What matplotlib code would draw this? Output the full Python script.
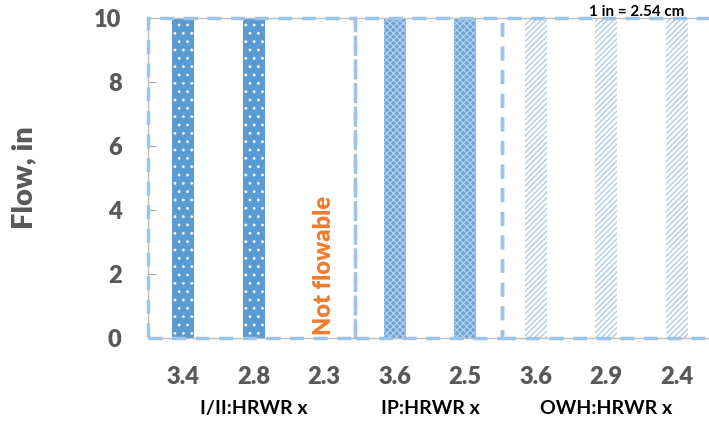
import matplotlib.pyplot as plt
from matplotlib.patches import Rectangle

plt.rcParams['font.family'] = ['Lato', 'DejaVu Sans']
plt.rcParams['hatch.linewidth'] = 0.8

# data
ratios = ["3.4", "2.8", "2.3", "3.6", "2.5", "3.6", "2.9", "2.4"]
flow = [10, 10, 0, 10, 10, 10, 10, 10]
groups = ["I/II:HRWR x", "IP:HRWR x", "OWH:HRWR x"]
group_sizes = [3, 2, 3]

gray = "#595959"
blue = "#5B9BD5"
light = "#9DC3E6"

fig = plt.figure(figsize=(7.09, 4.21), dpi=100)
ax = fig.add_axes([148 / 709, 1 - 338 / 421, 564 / 709, 320 / 421])

x = list(range(len(ratios)))
styles = (
    [dict(color=blue, edgecolor="white", hatch="..")] * 3
    + [dict(color="#6FA5DA", edgecolor="#B8D4EE", hatch="xxxxx")] * 2
    + [dict(color="white", edgecolor=light, hatch="//////")] * 3
)
for xi, v, st in zip(x, flow, styles):
    ax.bar(xi, v, width=0.31, linewidth=0, **st)

ax.set_xlim(-0.5, len(ratios) - 0.5)
ax.set_ylim(0, 10)
ax.set_yticks(range(0, 11, 2))
ax.set_xticks(x)
ax.set_xticklabels(ratios)
ax.tick_params(axis="both", labelsize=17, labelcolor=gray)
ax.tick_params(axis="x", length=0, pad=20)
ax.tick_params(axis="y", direction="in", length=6, width=0.8, color="#A6A6A6", pad=19)
for lbl in ax.get_xticklabels() + ax.get_yticklabels():
    lbl.set_fontweight("heavy")
for s in ax.spines.values():
    s.set_color("#BFBFBF")
    s.set_linewidth(1)

ax.set_ylabel("Flow, in", fontsize=21, fontweight="heavy", color=gray)
ax.yaxis.set_label_coords(-0.197, 0.5)

# dashed group boxes
edges = [-0.5, 2.44, 4.52, 7.55]
for left, right in zip(edges[:-1], edges[1:]):
    ax.add_patch(Rectangle((left, 0), right - left, 10, fill=False,
                           edgecolor=light, linewidth=2.5,
                           linestyle=(0, (4, 2.8)), clip_on=False, zorder=5))

# group labels
centers = [1, 3.5, 6]
for c, g in zip(centers, groups):
    ax.text(c, -2.2, g, ha="center", va="center", fontsize=14,
            fontweight="bold", color="black")

ax.text(2.0, 0.1, "Not flowable", rotation=90, ha="center", va="bottom",
        fontsize=17, fontweight="heavy", color="#ED7D31")

fig.text(637 / 709, 1 - 12 / 421, "1 in = 2.54 cm", ha="center", va="center",
         fontsize=11, fontweight="bold", color="black")

fig.savefig("out.png", dpi=100)
